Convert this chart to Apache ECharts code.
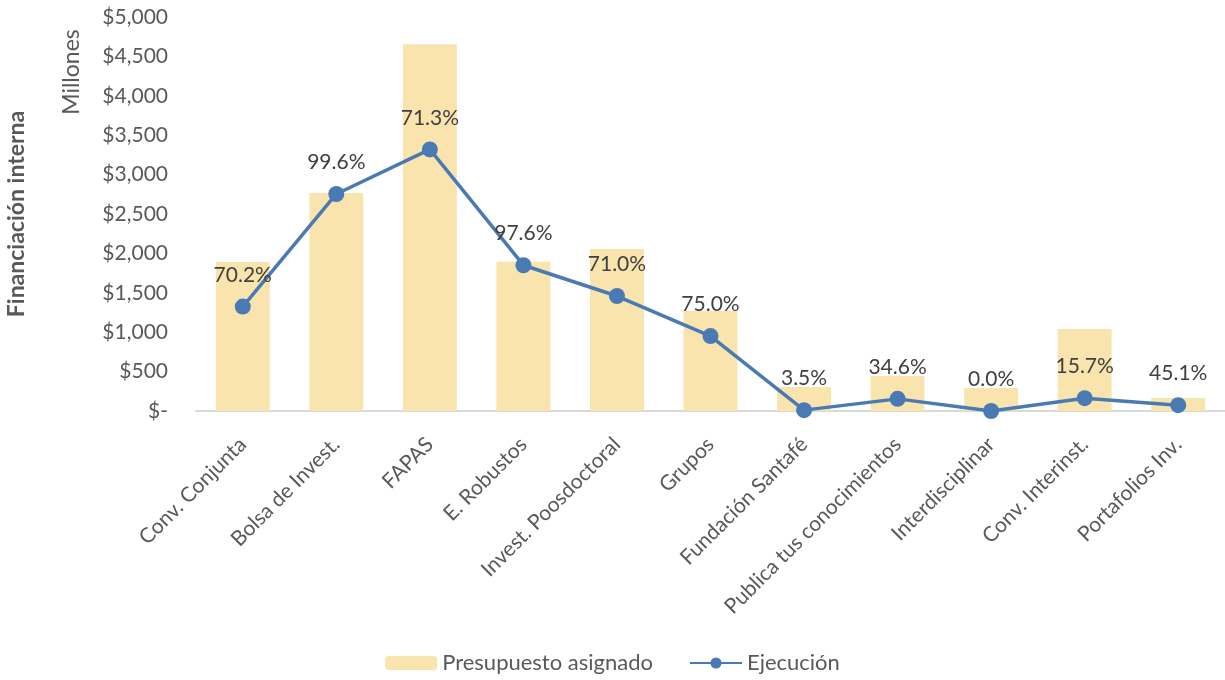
<!DOCTYPE html>
<html>
<head>
<meta charset="utf-8">
<script src="https://cdn.jsdelivr.net/npm/echarts@6/dist/echarts.min.js"></script>
<style>
  html, body { margin: 0; padding: 0; background: #fff; }
  #main { width: 1225px; height: 680px; }
</style>
</head>
<body>
<div id="main"></div>
<script>
// categories along the x axis
var categories = ['Conv. Conjunta', 'Bolsa de Invest.', 'FAPAS', 'E. Robustos', 'Invest. Poosdoctoral',
    'Grupos', 'Fundación Santafé', 'Publica tus conocimientos', 'Interdisciplinar', 'Conv. Interinst.', 'Portafolios Inv.'];

// millones
var presupuesto = [1890, 2765, 4655, 1895, 2055, 1268, 305, 444, 292, 1041, 165];
var ejecucion = [1325, 2754, 3320, 1850, 1459, 951, 11, 154, 0, 163, 74];

// labels shown above the line points
var porcentajes = ['70.2%', '99.6%', '71.3%', '97.6%', '71.0%', '75.0%', '3.5%', '34.6%', '0.0%', '15.7%', '45.1%'];

var yTicks = { min: 0, max: 5000, interval: 500 };

var font = 'Lato, "Noto Sans", sans-serif';
var gray = '#595959';

var myChart = echarts.init(document.getElementById('main'));

myChart.setOption({
    animation: false,
    textStyle: { fontFamily: font },
    grid: {
        left: 196,
        right: 0,
        top: 17,
        bottom: 269
    },
    legend: {
        bottom: 1,
        left: 'center',
        itemWidth: 52,
        itemHeight: 14,
        itemGap: 36,
        textStyle: { fontSize: 22, color: gray, fontFamily: font },
        data: ['Presupuesto asignado', 'Ejecución']
    },
    graphic: [
        {
            type: 'text',
            rotation: Math.PI / 2,
            x: 17, y: 214,
            style: {
                text: 'Financiación interna',
                fontFamily: font,
                fontSize: 23,
                fontWeight: 'bold',
                fill: gray,
                align: 'center',
                verticalAlign: 'middle'
            }
        },
        {
            type: 'text',
            rotation: Math.PI / 2,
            x: 72, y: 72,
            style: {
                text: 'Millones',
                fontFamily: font,
                fontSize: 23,
                fill: gray,
                align: 'center',
                verticalAlign: 'middle'
            }
        }
    ],
    xAxis: {
        type: 'category',
        data: categories,
        axisLine: { lineStyle: { color: '#D9D9D9', width: 2 } },
        axisTick: { show: false },
        axisLabel: {
            rotate: 45,
            interval: 0,
            margin: 30,
            fontSize: 21,
            color: gray,
            fontFamily: font
        }
    },
    yAxis: {
        type: 'value',
        min: yTicks.min,
        max: yTicks.max,
        interval: yTicks.interval,
        splitLine: { show: false },
        axisLine: { show: false },
        axisTick: { show: false },
        axisLabel: {
            fontSize: 21,
            color: gray,
            margin: 28,
            fontFamily: font,
            formatter: function (v) {
                if (v === 0) return '$-';
                return '$' + v.toLocaleString('en-US');
            }
        }
    },
    series: [
        {
            name: 'Presupuesto asignado',
            type: 'bar',
            data: presupuesto,
            barWidth: '57.6%',
            itemStyle: { color: '#F9E4AE' }
        },
        {
            name: 'Ejecución',
            type: 'line',
            data: ejecucion,
            symbol: 'circle',
            symbolSize: 16,
            lineStyle: { color: '#4A7AB4', width: 3.5 },
            itemStyle: { color: '#4A7AB4' },
            label: {
                show: true,
                position: 'top',
                distance: 13,
                fontSize: 21,
                color: '#404040',
                fontFamily: font,
                formatter: function (p) {
                    return porcentajes[p.dataIndex];
                }
            }
        }
    ]
});
</script>
</body>
</html>
